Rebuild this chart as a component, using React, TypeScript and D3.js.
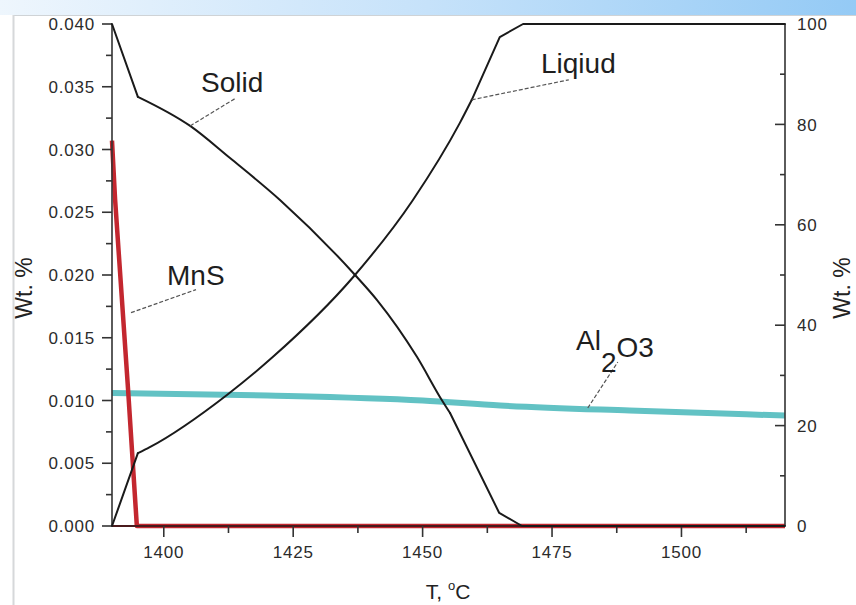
import React from "react";
import * as d3 from "d3";

// Temperature (°C) and phase amounts
const tempSolid = [1390, 1395, 1405.1, 1412.8, 1422.5, 1436.6, 1441.2, 1448.9, 1453.7, 1455.3, 1464.8, 1469.2, 1520];
const solidPct = [100, 85.5, 79.7, 73.3, 64.9, 50.4, 45.0, 33.7, 25.1, 22.5, 2.6, 0, 0];

const tempLiquid = [1390, 1395, 1397.3, 1412.2, 1421.1, 1436.6, 1448.1, 1457.2, 1459.5, 1464.9, 1469.4, 1520];
const liquidPct = [0, 14.5, 15.7, 26.1, 33.7, 49.6, 64.9, 80.3, 84.9, 97.4, 100, 100];

const tempMnS = [1390, 1390.6, 1393.1, 1394.8, 1520];
const mnsWt = [0.0307, 0.026, 0.0109, 0, 0];

const tempAl2O3 = [1390, 1420, 1450, 1465, 1490, 1505, 1520];
const al2o3Wt = [0.0106, 0.0104, 0.01, 0.0096, 0.0092, 0.009, 0.0088];

const xTicks = [1400, 1425, 1450, 1475, 1500];
const xMinor = [1412.5, 1437.5, 1462.5, 1487.5, 1512.5];
const leftTicks = [0, 0.005, 0.01, 0.015, 0.02, 0.025, 0.03, 0.035, 0.04];
const leftMinor = [0.0025, 0.0075, 0.0125, 0.0175, 0.0225, 0.0275, 0.0325, 0.0375];
const rightTicks = [0, 20, 40, 60, 80, 100];
const rightMinor = [10, 30, 50, 70, 90];

const FONT = "'Liberation Sans', Arial, Helvetica, sans-serif";

export default function App() {
  const W = 856, H = 605;
  const x = d3.scaleLinear().domain([1390, 1520]).range([112, 785]);
  const yL = d3.scaleLinear().domain([0, 0.04]).range([526, 24]);
  const yR = d3.scaleLinear().domain([0, 100]).range([526, 24]);

  const seg = (xs: number[], ys: number[], y: any, a: number, b: number, curve: any) =>
    d3.line<number>().x((i) => x(xs[i])).y((i) => y(ys[i])).curve(curve)(d3.range(a, b + 1)) || "";

  // piecewise: sharp knees linear, smooth middle monotone
  const solidPaths = [
    seg(tempSolid, solidPct, yR, 0, 1, d3.curveLinear),
    seg(tempSolid, solidPct, yR, 1, 9, d3.curveMonotoneX),
    seg(tempSolid, solidPct, yR, 9, 12, d3.curveLinear),
  ];
  const liquidPaths = [
    seg(tempLiquid, liquidPct, yR, 0, 1, d3.curveLinear),
    seg(tempLiquid, liquidPct, yR, 1, 8, d3.curveMonotoneX),
    seg(tempLiquid, liquidPct, yR, 8, 11, d3.curveLinear),
  ];
  const mnsPath = seg(tempMnS, mnsWt, yL, 0, tempMnS.length - 1, d3.curveLinear);
  const alPath = seg(tempAl2O3, al2o3Wt, yL, 0, tempAl2O3.length - 1, d3.curveMonotoneX);

  const fmtL = d3.format(".3f");
  const axisColor = "#333";
  const tickText = { fontFamily: FONT, fontSize: 17, fill: "#2b2b2b", letterSpacing: 0.8 } as const;
  const labelText = { fontFamily: FONT, fontSize: 28, fill: "#1e1e1e" } as const;

  const x0 = x(1390), x1 = x(1520), yb = yL(0), yt = yL(0.04);

  // leader anchors
  const sA = [x(1405.1), yR(79.7)];
  const mA = [x(1392.9), yL(0.017)];
  const lA = [x(1459.5), yR(84.9)];
  const aA = [x(1481.9), yL(0.0094)];

  return (
    <svg width={W} height={H} style={{ position: "absolute", left: 0, top: 0, background: "#fff" }}>
      <defs>
        <linearGradient id="band" x1="0" x2="1" y1="0" y2="0">
          <stop offset="0" stopColor="#eef6fd" />
          <stop offset="0.5" stopColor="#c6e2fa" />
          <stop offset="1" stopColor="#94caf5" />
        </linearGradient>
      </defs>
      <rect x={0} y={0} width={W} height={H} fill="#fff" />
      <rect x={0} y={0} width={W} height={15} fill="url(#band)" />
      <line x1={13} x2={W} y1={15.5} y2={15.5} stroke="#cfd3d6" strokeWidth={1} />
      <line x1={13.5} x2={13.5} y1={15} y2={H} stroke="#d6d8da" strokeWidth={2} />

      {/* series */}
      <path d={alPath} fill="none" stroke="#62c2c4" strokeWidth={6} strokeLinecap="butt" />
      <path d={mnsPath} fill="none" stroke="#c3272f" strokeWidth={4.5} strokeLinejoin="round" />

      {/* axes */}
      <g stroke={axisColor} strokeWidth={1.6} fill="none">
        <line x1={x0} x2={x0} y1={yt} y2={yb} />
        <line x1={x1} x2={x1} y1={yt} y2={yb} />
        <line x1={x0} x2={x1} y1={yb} y2={yb} stroke="#4a1a1c" strokeWidth={2} />
        {leftTicks.map((t) => (
          <line key={"lt" + t} x1={x0 - 10} x2={x0} y1={yL(t)} y2={yL(t)} />
        ))}
        {leftMinor.map((t) => (
          <line key={"lm" + t} x1={x0 - 6} x2={x0} y1={yL(t)} y2={yL(t)} />
        ))}
        {rightTicks.map((t) => (
          <line key={"rt" + t} x1={x1 - 10} x2={x1} y1={yR(t)} y2={yR(t)} />
        ))}
        {rightMinor.map((t) => (
          <line key={"rm" + t} x1={x1 - 5} x2={x1} y1={yR(t)} y2={yR(t)} />
        ))}
        {xTicks.map((t) => (
          <line key={"xt" + t} x1={x(t)} x2={x(t)} y1={yb} y2={yb + 11} />
        ))}
        {xMinor.map((t) => (
          <line key={"xm" + t} x1={x(t)} x2={x(t)} y1={yb} y2={yb + 7} />
        ))}
      </g>

      {solidPaths.map((d, i) => (
        <path key={"s" + i} d={d} fill="none" stroke="#1a1a1a" strokeWidth={2} strokeLinejoin="round" strokeLinecap="round" />
      ))}
      {liquidPaths.map((d, i) => (
        <path key={"l" + i} d={d} fill="none" stroke="#1a1a1a" strokeWidth={2} strokeLinejoin="round" strokeLinecap="round" />
      ))}

      {/* tick labels */}
      {leftTicks.map((t) => (
        <text key={"ltl" + t} x={x0 - 17} y={yL(t)} dy="0.36em" textAnchor="end" style={tickText}>
          {fmtL(t)}
        </text>
      ))}
      {rightTicks.map((t) => (
        <text key={"rtl" + t} x={x1 + 12} y={yR(t)} dy="0.36em" textAnchor="start" style={tickText}>
          {t}
        </text>
      ))}
      {xTicks.map((t) => (
        <text key={"xtl" + t} x={x(t)} y={yb + 32} textAnchor="middle" style={tickText}>
          {t}
        </text>
      ))}

      {/* axis titles */}
      <text transform="translate(32,288) rotate(-90)" textAnchor="middle" style={{ fontFamily: FONT, fontSize: 23, fill: "#222" }}>
        Wt. %
      </text>
      <text transform="translate(850,288) rotate(-90)" textAnchor="middle" style={{ fontFamily: FONT, fontSize: 23, fill: "#222" }}>
        Wt. %
      </text>
      <text x={448} y={599} textAnchor="middle" style={{ fontFamily: FONT, fontSize: 21, fill: "#222" }}>
        T,{" "}
        <tspan fontSize={13} dy={-9}>o</tspan>
        <tspan dy={9}>C</tspan>
      </text>

      {/* leader lines */}
      <g stroke="#555" strokeWidth={1.2} strokeDasharray="4,2" fill="none">
        <line x1={sA[0]} y1={sA[1]} x2={sA[0] + 46} y2={sA[1] - 28} />
        <line x1={mA[0] + 4} y1={mA[1]} x2={mA[0] + 69} y2={mA[1] - 23} />
        <line x1={lA[0]} y1={lA[1]} x2={lA[0] + 97} y2={lA[1] - 20} />
        <line x1={aA[0]} y1={aA[1]} x2={aA[0] + 30} y2={aA[1] - 46} />
      </g>

      {/* labels */}
      <text x={201} y={92} style={labelText}>Solid</text>
      <text x={541} y={73} style={labelText}>Liqiud</text>
      <text x={167} y={285} style={labelText}>MnS</text>
      <text x={576} y={350} style={labelText}>
        Al
        <tspan dy={22}>2</tspan>
        <tspan dy={-15}>O</tspan>
        <tspan>3</tspan>
      </text>
    </svg>
  );
}
